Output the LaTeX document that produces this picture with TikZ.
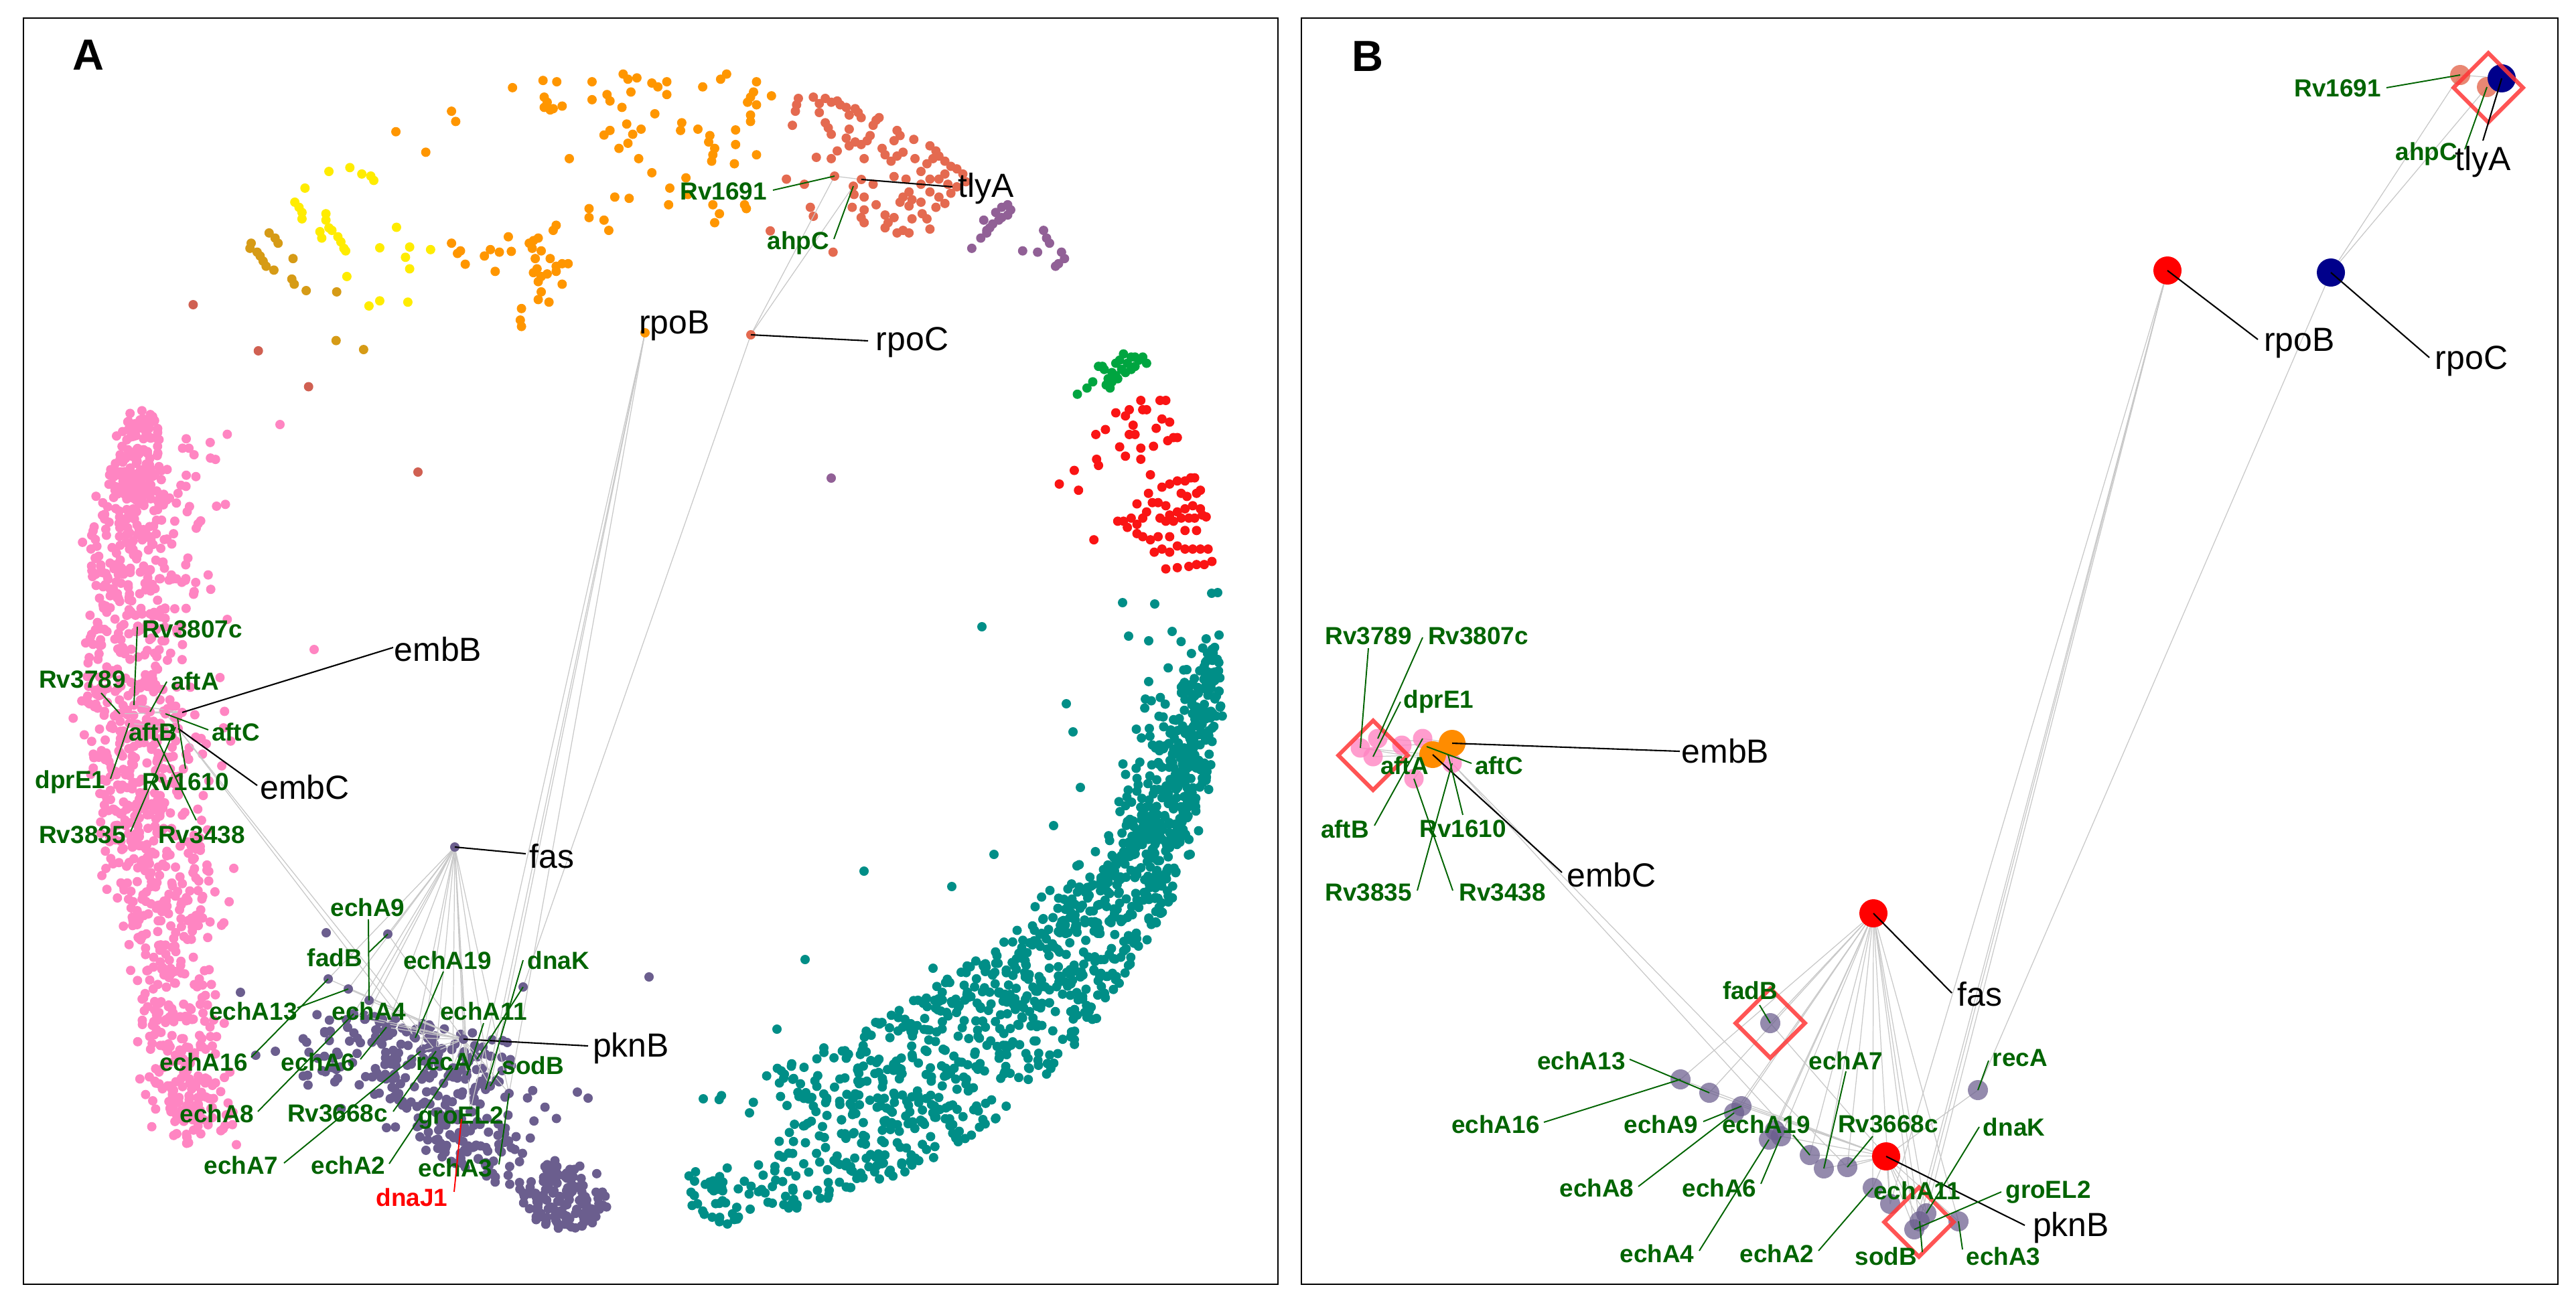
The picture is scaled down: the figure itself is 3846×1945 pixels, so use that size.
\documentclass[tikz,border=0pt]{standalone}
\usepackage{fontspec}
\setmainfont{Liberation Sans}
\usetikzlibrary{shapes.geometric}
\definecolor{cyel}{RGB}{255,236,0}
\definecolor{cgold}{RGB}{214,155,22}
\definecolor{corange}{RGB}{255,150,0}
\definecolor{corangeB}{RGB}{255,140,0}
\definecolor{csalmon}{RGB}{228,106,80}
\definecolor{cbrick}{RGB}{208,96,82}
\definecolor{cmauve}{RGB}{145,96,150}
\definecolor{cgreen}{RGB}{0,165,64}
\definecolor{cred}{RGB}{250,20,20}
\definecolor{cteal}{RGB}{0,142,135}
\definecolor{cpink}{RGB}{255,133,194}
\definecolor{cslate}{RGB}{107,94,142}
\definecolor{cnavy}{RGB}{0,0,139}
\definecolor{lblgreen}{RGB}{0,100,0}
\definecolor{edgegray}{RGB}{200,200,200}
\definecolor{dia}{RGB}{255,55,55}
\newcommand{\genelab}[6]{\node[#1] (#2) at (#3) {#4};\coordinate (#2-s) at (#5);\draw[#1-lead] (#2-s) -- (#6);}
\begin{document}
\begin{tikzpicture}[x=0.01cm,y=-0.01cm,
  blab/.style={font=\fontsize{14.2}{17}\selectfont, inner sep=0pt, text=black},
  glab/.style={font=\fontsize{10.5}{12.6}\selectfont\bfseries, inner sep=0pt, text=lblgreen},
  rlab/.style={font=\fontsize{10.5}{12.6}\selectfont\bfseries, inner sep=0pt, text=red},
  blab-lead/.style={draw=black, line width=0.6pt},
  glab-lead/.style={draw=lblgreen, line width=0.55pt},
  rlab-lead/.style={draw=red, line width=0.55pt},
  edge/.style={draw=edgegray, line width=0.35pt},
  diam/.style={shape=diamond, draw=dia, draw opacity=0.85, line width=1.7pt, minimum width=1.06cm, minimum height=1.06cm, inner sep=0pt, aspect=1},
  panel/.style={draw=black, line width=0.75pt},
  plab/.style={font=\fontsize{18.5}{22}\selectfont\bfseries, inner sep=0pt},
  bpur/.style={fill=cslate, fill opacity=0.72},
  bpink/.style={fill=cpink, fill opacity=0.8},
  bsal/.style={fill=csalmon, fill opacity=0.8}]
\useasboundingbox (0,0) rectangle (3846,1945);
\fill[white] (0,0) rectangle (3846,1945);

% ================= PANEL A : coordinates =================
\coordinate (a-tlyA) at (1286,268);
\coordinate (a-Rv1691) at (1246,263);
\coordinate (a-ahpC) at (1274,278);
\coordinate (a-rpoB) at (963,497);
\coordinate (a-rpoC) at (1121,500);
\coordinate (a-Rv3807c) at (200,1053);
\coordinate (a-Rv3789) at (179,1066);
\coordinate (a-aftA) at (224,1063);
\coordinate (a-aftC) at (247,1066);
\coordinate (a-embB) at (272,1064);
\coordinate (a-dprE1) at (193,1080);
\coordinate (a-Rv1610) at (265,1072);
\coordinate (a-Rv3835) at (262,1086);
\coordinate (a-embC) at (266,1088);
\coordinate (a-Rv3438) at (234,1103);
\coordinate (a-fas) at (679,1265);
\coordinate (a-pknB) at (692,1552);
\coordinate (a-recA) at (781,1474);
\coordinate (a-dnaK) at (725,1627);
\coordinate (a-echA3) at (760,1633);
\coordinate (a-sodB) at (732,1622);
\coordinate (a-echA11) at (697,1606);
\coordinate (a-echA2) at (676,1595);
\coordinate (a-dnaJ1) at (689,1671);
\coordinate (a-groEL2) at (702,1660);
\coordinate (a-echA7) at (628,1570);
\coordinate (a-Rv3668c) at (651,1570);
\coordinate (a-echA19) at (620,1550);
\coordinate (a-echA6) at (577,1534);
\coordinate (a-echA8) at (528,1514);
\coordinate (a-echA9) at (551,1494);
\coordinate (a-fadB) at (579,1395);
\coordinate (a-echA13) at (520,1477);
\coordinate (a-echA16) at (490,1462);
\coordinate (a-echA4) at (545,1522);

% ================= PANEL A : scatter clouds =================
\pgfmathsetseed{2024}
% pink arc
\foreach \i in {1,...,980}{%
  \pgfmathsetmacro\qy{612+1100*rnd}%
  \pgfmathsetmacro\qd{(\qy-1050)/440}%
  \pgfmathsetmacro\qc{(\qy<1050) ? (183+32*\qd*\qd) : (183+0.17*(\qy-1050))}%
  \pgfmathsetmacro\qw{32+50*min(1,(\qy-612)/180)}%
  \pgfmathsetmacro\qx{\qc+\qw*(0.65*(2*rnd-1)+0.35*(rnd+rnd-1))}%
  \fill[cpink] (\qx,\qy) circle[radius=0.07cm];}
\foreach \i in {1,...,110}{%
  \pgfmathsetmacro\qy{640+760*rnd}%
  \pgfmathsetmacro\qd{(\qy-1050)/440}%
  \pgfmathsetmacro\qc{(\qy<1050) ? (183+32*\qd*\qd) : (183+0.17*(\qy-1050))}%
  \pgfmathsetmacro\qx{\qc+60+110*rnd*rnd}%
  \fill[cpink] (\qx,\qy) circle[radius=0.07cm];}
\fill[cpink] (418,634) circle[radius=0.07cm];
\fill[cpink] (469,970) circle[radius=0.07cm];
% teal arc
\foreach \i in {1,...,1150}{%
  \pgfmathsetmacro\qt{-4+92*(0.8*rnd+0.2*rnd*rnd)}%
  \pgfmathsetmacro\qa{max(0,1-(\qt+8)/60)}%
  \pgfmathsetmacro\qw{120+100*min(1,(\qt+8)/45)}%
  \pgfmathsetmacro\qr{830-\qw*(\qa*rnd*rnd+(1-\qa)*rnd)}%
  \fill[cteal] ({1000+\qr*cos(\qt)},{1000+\qr*sin(\qt)}) circle[radius=0.07cm];}
\foreach \i in {1,...,60}{%
  \pgfmathsetmacro\qt{76+12*rnd}%
  \pgfmathsetmacro\qr{830-90*rnd}%
  \fill[cteal] ({1000+\qr*cos(\qt)},{1000+\qr*sin(\qt)}) circle[radius=0.07cm];}
\foreach \qa/\qb in {1466/936,1592/1051,1602/1093,1613/1176,1573/1233,1484/1276,1290/1301,1421/1324,1557/1373,1202/1433,1160/1537,1050/1641,1676/900,1724/902,1685/950,1715/957,1750/943,1809/886,1818/885,1037/1764,1086/1828,1119/1662,1175/1651,1212/1639,1230/1565,1328/1535,1393/1446,1435/1452,1471/1451,1499/1407,1620/1378}
  \fill[cteal] (\qa,\qb) circle[radius=0.07cm];
% slate purple bottom cluster
\foreach \i in {1,...,300}{%
  \pgfmathsetmacro\qu{0.4*rnd+0.6*sqrt(rnd)}%
  \pgfmathsetmacro\qv{rnd}%
  \pgfmathsetmacro\qx{(1-\qv)*((1-\qu)*320+\qu*800)+\qv*((1-\qu)*380+\qu*900)}%
  \pgfmathsetmacro\qy{(1-\qv)*((1-\qu)*1470+\qu*1560)+\qv*((1-\qu)*1600+\qu*1840)}%
  \fill[cslate] (\qx,\qy) circle[radius=0.07cm];}
\foreach \i in {1,...,120}{%
  \pgfmathsetmacro\qa{360*rnd}%
  \pgfmathsetmacro\qr{65*sqrt(rnd)}%
  \fill[cslate] ({845+\qr*cos(\qa)},{1785+0.8*\qr*sin(\qa)}) circle[radius=0.07cm];}
\foreach \qa/\qb in {969/1459,487/1393,862/1631,878/1640}
  \fill[cslate] (\qa,\qb) circle[radius=0.07cm];
% yellow
\foreach \qa/\qb in {270/460,305/445,325/470,340/478,345/495,230/525,213/580,220/600,225/620,225/645,265/625,265/650,270/680,255/695,258/720,275/690,285/715,290/735,295/760,298/770,383/678,355/758,405/755,398/795,405/840,440/765,300/870,337/985,355/965,402/970}
  \fill[cyel] ({250+\qa/1.12},{80+\qb/2.613}) circle[radius=0.07cm];
% goldenrod
\foreach \qa/\qb in {140/740,138/760,150/775,155/790,160/810,165/830,178/845,170/700,180/720,185/740,210/800,208/880,212/900,232/925,283/930,282/1120,328/1155}
  \fill[cgold] ({250+\qa/1.12},{80+\qb/2.613}) circle[radius=0.07cm];
% orange
\foreach \qa/\qb in {577/133,628/105,651/110,630/170,635/190,630/210,645/215,660/205,640/220,710/110,710/180,735/160,740/185,762/80,770/100,785/95,775/150,760/210,810/115,820/130,835/110,835/160,815/235,895/130,925/100,935/80,985/110,980/150,975/170,970/190,985/200,1010/165,975/240,975/265,768/275,792/295,740/300,730/318,778/315,770/350,755/370,860/270,858/300,887/295,907/320,905/345,950/298,950/355,915/370,912/395,910/420,948/430,985/395,810/465,788/410,672/410,475/225,482/265,382/305,432/385,867/485,840/525,870/550,838/590,912/590,923/625,965/590,968/605,915/660,748/560,772/565,705/605,705/640,730/650,738/690,650/670,645/690,570/715,475/740,490/770,485/780,498/822,530/790,540/765,555/775,575/772,548/850,605/740,612/730,620/720,610/760,625/770,640/800,615/800,618/840,612/855,625/870,650/830,660/820,670/820,650/850,635/860,620/890,625/930,620/960,638/970,660/900,592/995,590/1040,592/1065}
  \fill[corange] ({250+\qa/1.12},{80+\qb/2.613}) circle[radius=0.07cm];
% salmon
\foreach \qa/\qb in {1055/175,1052/200,1050/225,1045/280,1080/170,1090/195,1100/175,1110/190,1120/185,1125/200,1090/230,1100/270,1105/290,1110/315,1135/210,1140/240,1150/215,1155/230,1160/250,1140/295,1135/330,1140/360,1150/345,1160/355,1175/320,1180/280,1185/260,1190/250,1170/340,1165/410,1120/380,1085/405,1110/410,1195/370,1200/395,1220/300,1215/340,1225/320,1230/385,1248/335,1220/400,1210/420,1250/410,1275/360,1285/380,1270/430,1280/410,1290/400,1300/420,1310/440,1320/450,1330/470,1335/500,1300/470,1290/490,1305/510,1320/520,1310/545,1290/560,1300/585,1285/600,1260/460,1275/490,1260/510,1240/540,1230/560,1245/570,1225/580,1240/595,1260/580,1275/540,1215/480,1235/490,1180/510,1148/550,1165/560,1185/590,1165/610,1145/600,1160/640,1165/660,1200/630,1205/660,1200/680,1215/640,1220/700,1230/690,1240/700,1245/645,1270/645,1275/685,1262/625,1035/490,1065/510,1075/600,1080/635,1008/692,1113/775}
  \fill[csalmon] ({250+\qa/1.12},{80+\qb/2.613}) circle[radius=0.07cm];
\foreach \qa/\qb in {43/980,152/1160,236/1300}
  \fill[cbrick] ({250+\qa/1.12},{80+\qb/2.613}) circle[radius=0.07cm];
\fill[cbrick] (624,705) circle[radius=0.07cm];
% mauve
\foreach \qa/\qb in {1360/720,1370/700,1375/680,1380/665,1390/650,1395/640,1385/620,1395/600,1405/590,1410/610,1405/630,1365/650,1370/690,1345/760,1430/770,1455/775,1465/690,1470/720,1475/740,1495/775,1500/800,1490/820,1485/830}
  \fill[cmauve] ({250+\qa/1.12},{80+\qb/2.613}) circle[radius=0.07cm];
\fill[cmauve] (1241,714) circle[radius=0.07cm];
% green
\foreach \qa/\qb in {1060/150,1085/140,1100/130,1115/105,1130/110,1140/125,1150/115,1160/100,1170/95,1180/85,1190/100,1200/90,1210/105,1220/95,1230/90,1240/100,1175/110,1165/125,1185/115,1150/130,1135/135,1200/110,1210/90,1125/105,1160/120,1145/140}
  \fill[cgreen] ({1000+\qa/1.742},{450+\qb/1.081}) circle[radius=0.07cm];
% red
\foreach \qa/\qb in {1013/295,1052/273,1063/305,1103/385,1108/215,1133/207,1110/255,1115/265,1160/180,1170/235,1185/185,1195/175,1205/200,1210/215,1225/160,1230/175,1240/175,1195/215,1225/237,1258/234,1185/250,1225/255,1275/160,1290/160,1265/205,1280/190,1300/195,1310/220,1295/225,1320/220,1250/280,1245/310,1215/327,1165/355,1180/355,1200/350,1190/365,1215/360,1230/350,1240/340,1255/325,1270/325,1280/300,1300/295,1320/290,1340/290,1355/285,1365/285,1290/330,1300/345,1320/340,1340/335,1360/330,1380/335,1385/345,1395/348,1275/350,1290/355,1310/355,1330/350,1350/350,1365/350,1370/370,1340/370,1300/380,1270/380,1250/385,1230/380,1215/375,1260/405,1280/400,1300/405,1320/395,1340/400,1360/400,1380/400,1400/400,1410/420,1390/425,1370/425,1350/428,1320/430,1290/432,1330/310,1345/315,1370/310,1380/305}
  \fill[cred] ({1000+\qa/1.742},{450+\qb/1.081}) circle[radius=0.07cm];

% ================= PANEL A : edges =================
\draw[edge] (a-Rv1691) -- (a-tlyA);
\draw[edge] (a-Rv1691) -- (a-rpoC);
\draw[edge] (a-ahpC) -- (a-rpoC);
\foreach \t in {dnaK,sodB,echA3,groEL2} \draw[edge] (a-rpoB) -- (a-\t);
\draw[edge] (a-rpoC) -- (a-recA);
\foreach \t in {echA9,fadB,echA13,echA16,echA6,echA19,Rv3668c,echA7,echA8,echA11,pknB,echA2,sodB,echA3,groEL2,echA4} \draw[edge] (a-fas) -- (a-\t);
\foreach \t in {echA13,echA16,echA9,echA8,echA6,echA19,echA7,Rv3668c,echA4,fadB,echA2,echA11,sodB,echA3} \draw[edge] (a-pknB) -- (a-\t);
\foreach \s/\t in {Rv3789/embB,Rv3807c/embB,dprE1/embC,aftA/embB,Rv3438/embC,aftC/embC,Rv3835/embB} \draw[edge] (a-\s) -- (a-\t);
\draw[edge] (a-embC) -- (a-echA19);
\draw[edge] (a-embC) -- (a-Rv3668c);

% ================= PANEL A : highlighted dots =================
\foreach \n in {a-tlyA,a-Rv1691,a-ahpC,a-rpoC} \fill[csalmon] (\n) circle[radius=0.07cm];
\fill[corange] (a-rpoB) circle[radius=0.07cm];
\foreach \n in {a-Rv3807c,a-Rv3789,a-aftA,a-aftC,a-embB,a-dprE1,a-Rv1610,a-Rv3835,a-embC,a-Rv3438} \fill[cpink] (\n) circle[radius=0.07cm];
\foreach \n in {a-fas,a-pknB,a-recA,a-dnaK,a-echA3,a-sodB,a-echA11,a-echA2,a-dnaJ1,a-groEL2,a-echA7,a-Rv3668c,a-echA19,a-echA6,a-echA8,a-echA9,a-fadB,a-echA13,a-echA16,a-echA4} \fill[cslate] (\n) circle[radius=0.07cm];

% ================= PANEL A : labels =================
\genelab{blab}{la-tlyA}{1472,282}{tlyA}{1422,279}{a-tlyA}
\node[blab] (la-rpoB) at (1007,486) {rpoB};
\genelab{blab}{la-rpoC}{1362,511}{rpoC}{1296,509}{a-rpoC}
\genelab{blab}{la-embB}{654,970}{embB}{587,967}{a-embB}
\genelab{blab}{la-embC}{455,1176}{embC}{384,1173}{a-embC}
\genelab{blab}{la-fas}{824,1279}{fas}{785,1275}{a-fas}
\genelab{blab}{la-pknB}{942,1566}{pknB}{878,1562}{a-pknB}
\genelab{glab}{la-Rv1691}{1080,286}{Rv1691}{1154,284}{a-Rv1691}
\genelab{glab}{la-ahpC}{1192,363}{ahpC}{1245,357}{a-ahpC}
\genelab{glab}{la-Rv3807c}{287,940}{Rv3807c}{205,936}{a-Rv3807c}
\genelab{glab}{la-Rv3789}{123,1015}{Rv3789}{151,1035}{a-Rv3789}
\genelab{glab}{la-aftA}{291,1017}{aftA}{249,1018}{a-aftA}
\node[glab] (la-aftB) at (228,1093) {aftB};
\genelab{glab}{la-aftC}{352,1093}{aftC}{311,1090}{a-aftC}
\genelab{glab}{la-dprE1}{105,1168}{dprE1}{165,1163}{a-dprE1}
\genelab{glab}{la-Rv1610}{277,1168}{Rv1610}{277,1148}{a-Rv1610}
\genelab{glab}{la-Rv3835}{123,1247}{Rv3835}{195,1242}{a-Rv3835}
\genelab{glab}{la-Rv3438}{301,1247}{Rv3438}{293,1225}{a-Rv3438}
\genelab{glab}{la-echA9}{549,1355}{echA9}{550,1373}{a-echA9}
\genelab{glab}{la-fadB}{500,1430}{fadB}{551,1422}{a-fadB}
\genelab{glab}{la-echA19}{668,1434}{echA19}{662,1451}{a-echA19}
\genelab{glab}{la-dnaK}{834,1434}{dnaK}{781,1434}{a-dnaK}
\genelab{glab}{la-echA13}{378,1510}{echA13}{444,1505}{a-echA13}
\node[glab] (la-echA4) at (551,1510) {echA4};
\genelab{glab}{la-echA11}{722,1510}{echA11}{722,1528}{a-echA11}
\genelab{glab}{la-echA16}{304,1586}{echA16}{375,1579}{a-echA16}
\genelab{glab}{la-echA6}{475,1586}{echA6}{538,1582}{a-echA6}
\genelab{glab}{la-recA}{663,1586}{recA}{712,1582}{a-recA}
\genelab{glab}{la-sodB}{796,1591}{sodB}{745,1600}{a-sodB}
\genelab{glab}{la-echA8}{324,1663}{echA8}{385,1660}{a-echA8}
\genelab{glab}{la-Rv3668c}{504,1663}{Rv3668c}{587,1660}{a-Rv3668c}
\node[glab] (la-groEL2) at (688,1669) {groEL2};
\genelab{glab}{la-echA7}{360,1740}{echA7}{424,1737}{a-echA7}
\genelab{glab}{la-echA2}{520,1740}{echA2}{581,1738}{a-echA2}
\genelab{glab}{la-echA3}{680,1744}{echA3}{745,1739}{a-echA3}
\genelab{rlab}{la-dnaJ1}{615,1788}{dnaJ1}{678,1780}{a-dnaJ1}

% ================= PANEL B : coordinates =================
\coordinate (b-Rv1691) at (3673,112);
\coordinate (b-ahpC) at (3713,130);
\coordinate (b-tlyA) at (3735,117);
\coordinate (b-rpoB) at (3236,404);
\coordinate (b-rpoC) at (3480,407);
\coordinate (b-fas) at (2797,1364);
\coordinate (b-pknB) at (2816,1727);
\coordinate (b-fadB) at (2643,1528);
\coordinate (b-echA16) at (2509,1612);
\coordinate (b-echA13) at (2552,1632);
\coordinate (b-echA9) at (2600,1652);
\coordinate (b-echA8) at (2589,1662);
\coordinate (b-x1) at (2650,1688);
\coordinate (b-echA6) at (2659,1697);
\coordinate (b-echA4) at (2641,1702);
\coordinate (b-echA19) at (2702,1725);
\coordinate (b-echA7) at (2723,1745);
\coordinate (b-Rv3668c) at (2758,1743);
\coordinate (b-recA) at (2953,1628);
\coordinate (b-echA2) at (2796,1774);
\coordinate (b-echA11) at (2822,1798);
\coordinate (b-dnaK) at (2876,1812);
\coordinate (b-sodB) at (2866,1824);
\coordinate (b-groEL2) at (2858,1836);
\coordinate (b-echA3) at (2924,1824);
\coordinate (b-Rv3789) at (2031,1117);
\coordinate (b-Rv3807c) at (2057,1103);
\coordinate (b-dprE1) at (2050,1130);
\coordinate (b-p4) at (2093,1113);
\coordinate (b-aftB) at (2124,1103);
\coordinate (b-p6) at (2168,1140);
\coordinate (b-Rv3438) at (2111,1163);
\coordinate (b-embC) at (2139,1127);
\coordinate (b-embB) at (2168,1110);
\coordinate (b-aftCt) at (2130,1115);
\coordinate (b-Rv1610t) at (2162,1127);

% ================= PANEL B : edges =================
\draw[edge] (b-Rv1691) -- (b-tlyA);
\draw[edge] (b-Rv1691) -- (b-rpoC);
\draw[edge] (b-ahpC) -- (b-rpoC);
\foreach \t in {echA11,dnaK,sodB,groEL2} \draw[edge] (b-rpoB) -- (b-\t);
\draw[edge] (b-rpoC) -- (b-recA);
\draw[edge] (b-recA) -- (b-pknB);
\foreach \t in {fadB,echA16,echA13,echA8,echA9,echA6,echA4,x1,echA19,echA7,Rv3668c,echA2,echA11,dnaK,sodB,groEL2,echA3} \draw[edge] (b-fas) -- (b-\t);
\foreach \t in {fadB,echA16,echA13,echA9,echA6,echA19,echA7,Rv3668c,echA2,echA11,dnaK,sodB,groEL2,echA3} \draw[edge] (b-pknB) -- (b-\t);
\foreach \s/\t in {Rv3789/embC,Rv3807c/embB,dprE1/embC,p4/embB,aftB/embB,Rv3438/embC,p6/embB,Rv3789/p6} \draw[edge] (b-\s) -- (b-\t);
\draw[edge] (b-p6) -- (b-echA19);
\draw[edge] (b-p6) -- (b-Rv3668c);

% ================= PANEL B : dots =================
\foreach \n in {b-fadB,b-echA16,b-echA13,b-echA9,b-echA8,b-x1,b-echA6,b-echA4,b-echA19,b-echA7,b-Rv3668c,b-recA,b-echA2,b-echA11,b-dnaK,b-sodB,b-groEL2,b-echA3} \fill[bpur] (\n) circle[radius=0.15cm];
\fill[red] (b-fas) circle[radius=0.21cm];
\fill[red] (b-pknB) circle[radius=0.21cm];
\fill[red] (b-rpoB) circle[radius=0.21cm];
\fill[cnavy] (b-rpoC) circle[radius=0.21cm];
\foreach \n in {b-Rv3789,b-Rv3807c,b-dprE1,b-p4,b-aftB,b-p6,b-Rv3438} \fill[bpink] (\n) circle[radius=0.145cm];
\fill[corangeB] (b-embC) circle[radius=0.2cm];
\fill[corangeB] (b-embB) circle[radius=0.2cm];
\fill[bsal] (b-Rv1691) circle[radius=0.15cm];
\fill[bsal] (b-ahpC) circle[radius=0.15cm];
\fill[cnavy] (b-tlyA) circle[radius=0.21cm];
% diamonds
\node[diam] (d-top) at (3715,131) {};
\node[diam] (d-emb) at (2050,1128) {};
\node[diam] (d-fadB) at (2643,1528) {};
\node[diam] (d-sodB) at (2865,1825) {};

% ================= PANEL B : labels =================
\genelab{blab}{lb-tlyA}{3707,242}{tlyA}{3707,210}{b-tlyA}
\genelab{blab}{lb-rpoB}{3433,512}{rpoB}{3371,507}{b-rpoB}
\genelab{blab}{lb-rpoC}{3690,539}{rpoC}{3627,534}{b-rpoC}
\genelab{blab}{lb-embB}{2576,1122}{embB}{2508,1122}{b-embB}
\genelab{blab}{lb-embC}{2406,1307}{embC}{2332,1303}{b-embC}
\genelab{blab}{lb-fas}{2956,1485}{fas}{2914,1483}{b-fas}
\genelab{blab}{lb-pknB}{3092,1834}{pknB}{3023,1830}{b-pknB}
\genelab{glab}{lb-Rv1691}{3490,132}{Rv1691}{3563,131}{b-Rv1691}
\genelab{glab}{lb-ahpC}{3623,230}{ahpC}{3680,223}{b-ahpC}
\genelab{glab}{lb-Rv3789}{2043,950}{Rv3789}{2043,968}{b-Rv3789}
\genelab{glab}{lb-Rv3807c}{2207,950}{Rv3807c}{2124,952}{b-Rv3807c}
\genelab{glab}{lb-dprE1}{2148,1048}{dprE1}{2091,1048}{b-dprE1}
\node[glab] (lb-aftA) at (2097,1143) {aftA};
\genelab{glab}{lb-aftB}{2008,1238}{aftB}{2052,1233}{b-aftB}
\genelab{glab}{lb-aftC}{2238,1143}{aftC}{2197,1140}{b-aftCt}
\genelab{glab}{lb-Rv1610}{2184,1238}{Rv1610}{2184,1217}{b-Rv1610t}
\genelab{glab}{lb-Rv3835}{2043,1333}{Rv3835}{2116,1330}{b-p6}
\genelab{glab}{lb-Rv3438}{2243,1333}{Rv3438}{2169,1330}{b-Rv3438}
\genelab{glab}{lb-fadB}{2613,1479}{fadB}{2627,1501}{b-fadB}
\genelab{glab}{lb-echA13}{2361,1584}{echA13}{2433,1582}{b-echA13}
\genelab{glab}{lb-echA16}{2233,1679}{echA16}{2305,1676}{b-echA16}
\genelab{glab}{lb-echA9}{2480,1679}{echA9}{2543,1675}{b-echA9}
\genelab{glab}{lb-echA19}{2637,1679}{echA19}{2677,1695}{b-echA19}
\genelab{glab}{lb-echA7}{2756,1584}{echA7}{2756,1600}{b-echA7}
\genelab{glab}{lb-recA}{3016,1580}{recA}{2969,1584}{b-recA}
\genelab{glab}{lb-Rv3668c}{2819,1679}{Rv3668c}{2796,1697}{b-Rv3668c}
\genelab{glab}{lb-dnaK}{3007,1683}{dnaK}{2955,1683}{b-dnaK}
\genelab{glab}{lb-echA8}{2384,1774}{echA8}{2446,1772}{b-echA8}
\genelab{glab}{lb-echA6}{2567,1774}{echA6}{2629,1768}{b-echA6}
\node[glab] (lb-echA11) at (2862,1778) {echA11};
\genelab{glab}{lb-groEL2}{3058,1780}{groEL2}{2988,1780}{b-groEL2}
\genelab{glab}{lb-echA4}{2474,1872}{echA4}{2537,1868}{b-echA4}
\genelab{glab}{lb-echA2}{2653,1872}{echA2}{2715,1868}{b-echA2}
\genelab{glab}{lb-sodB}{2816,1876}{sodB}{2870,1870}{b-sodB}
\genelab{glab}{lb-echA3}{2991,1876}{echA3}{2930,1866}{b-echA3}

% ================= frames and panel letters =================
\draw[panel] (35,27) rectangle (1908,1918);
\draw[panel] (1943,27) rectangle (3819,1918);
\node[plab] (pA) at (132,82) {A};
\node[plab] (pB) at (2042,84) {B};
\end{tikzpicture}
\end{document}
